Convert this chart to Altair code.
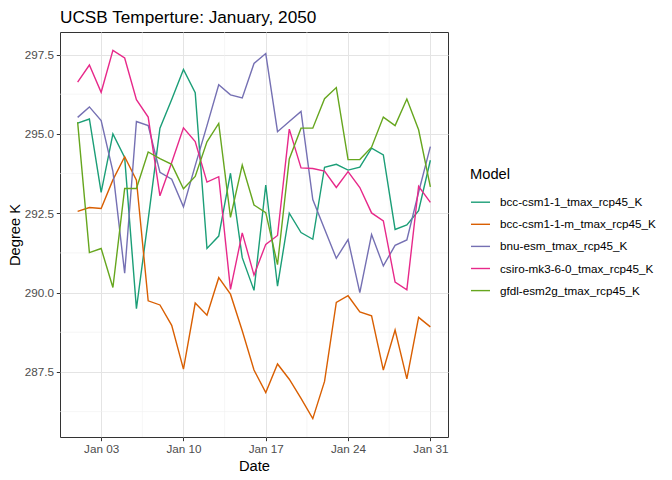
import altair as alt
import pandas as pd

models = [
    "bcc-csm1-1_tmax_rcp45_K",
    "bcc-csm1-1-m_tmax_rcp45_K",
    "bnu-esm_tmax_rcp45_K",
    "csiro-mk3-6-0_tmax_rcp45_K",
    "gfdl-esm2g_tmax_rcp45_K",
]
colors = ["#1B9E77", "#D95F02", "#7570B3", "#E7298A", "#66A61E"]

days = list(range(1, 32))

bcc_csm1_1 = [295.34, 295.47, 293.16, 295.0, 294.26, 289.49, 292.3, 295.18, 296.08, 297.03,
              296.3, 291.39, 291.78, 293.76, 291.1, 290.07, 293.39, 290.2, 292.5, 291.89,
              291.68, 293.95, 294.04, 293.86, 293.95, 294.55, 294.34, 291.99, 292.13, 292.58, 294.17]
bcc_csm1_1_m = [292.56, 292.68, 292.65, 293.55, 294.28, 293.54, 289.74, 289.61, 288.97, 287.59,
                289.67, 289.29, 290.47, 289.95, 288.8, 287.56, 286.85, 287.75, 287.27, 286.67,
                286.03, 287.2, 289.69, 289.9, 289.39, 289.27, 287.56, 288.82, 287.28, 289.22, 288.92]
bnu_esm = [295.52, 295.85, 295.42, 293.82, 290.61, 295.39, 295.26, 293.79, 293.57, 292.7,
           294.0, 295.26, 296.55, 296.23, 296.13, 297.22, 297.53, 295.07, 295.39, 295.71,
           292.93, 292.0, 291.08, 291.67, 290.0, 291.83, 290.84, 291.49, 291.66, 293.16, 294.6]
csiro = [296.63, 297.17, 296.31, 297.63, 297.39, 296.08, 295.53, 293.05, 294.1, 295.19,
         294.76, 293.48, 293.65, 290.1, 291.88, 290.55, 291.52, 291.8, 295.15, 293.93,
         293.91, 293.83, 293.31, 293.81, 293.31, 292.51, 292.26, 290.33, 290.09, 293.35, 292.84]
gfdl = [295.37, 291.26, 291.39, 290.16, 293.28, 293.28, 294.43, 294.22, 294.04, 293.27,
        293.66, 294.75, 295.33, 292.37, 294.02, 292.76, 292.52, 290.88, 294.21, 295.18,
        295.18, 296.11, 296.46, 294.19, 294.19, 294.58, 295.53, 295.26, 296.1, 295.13, 293.33]

series = [bcc_csm1_1, bcc_csm1_1_m, bnu_esm, csiro, gfdl]

y_major = [287.5, 290.0, 292.5, 295.0, 297.5]
y_minor = [286.25, 288.75, 291.25, 293.75, 296.25]
x_major_days = [3, 10, 17, 24, 31]
x_minor = ["2050-01-06T12:00:00", "2050-01-13T12:00:00", "2050-01-20T12:00:00", "2050-01-27T12:00:00"]

rows = []
for m, vals in zip(models, series):
    for d, v in zip(days, vals):
        rows.append({"date": f"2050-01-{d:02d}T00:00:00", "value": v, "Model": m})
df = pd.DataFrame(rows)

allv = [v for s in series for v in s]
lo, hi = min(allv), max(allv)
pad = (hi - lo) * 0.05
ydom = [lo - pad, hi + pad]

xscale = alt.Scale(
    domain=[alt.DateTime(year=2049, month=12, date=30, hours=12),
            alt.DateTime(year=2050, month=2, date=1, hours=12)],
    nice=False,
)
yscale = alt.Scale(domain=ydom, nice=False, zero=False)

FONT = "Liberation Sans"

lines = alt.Chart(df).mark_line(strokeWidth=1.4).encode(
    x=alt.X("date:T", scale=xscale, title="Date",
            axis=alt.Axis(values=[alt.DateTime(year=2050, month=1, date=d) for d in x_major_days],
                          format="%b %d")),
    y=alt.Y("value:Q", scale=yscale, title="Degree K",
            axis=alt.Axis(values=y_major, format=".1f")),
    color=alt.Color("Model:N", scale=alt.Scale(domain=models, range=colors),
                    legend=alt.Legend(title="Model", orient="none", legendX=410, legendY=135,
                                      symbolType="stroke", symbolSize=361, symbolStrokeWidth=1.4,
                                      labelFontSize=11.7, titleFontSize=14.7, titleFontWeight="normal",
                                      labelColor="#000000", titleColor="#000000",
                                      rowPadding=4.1, titlePadding=10, labelOffset=9,
                                      labelFont=FONT, titleFont=FONT)),
)

minor_y = alt.Chart(pd.DataFrame({"value": y_minor})).mark_rule(color="#F0F0F0", strokeWidth=0.6).encode(
    y=alt.Y("value:Q", scale=yscale, title="Degree K")
)
minor_x = alt.Chart(pd.DataFrame({"date": x_minor})).mark_rule(color="#F0F0F0", strokeWidth=0.6).encode(
    x=alt.X("date:T", scale=xscale, title="Date")
)

chart = alt.layer(minor_y, minor_x, lines).properties(
    width=388, height=405,
    autosize=alt.AutoSizeParams(type="none"),
    padding={"left": 52, "top": 24, "right": 216, "bottom": 40},
    title=alt.Title("UCSB Temperture: January, 2050", anchor="start", frame="group",
                    fontSize=17.2, fontWeight="normal", font=FONT, color="#000000", offset=6),
).configure_view(
    stroke="#333333", strokeWidth=1
).configure_axis(
    grid=True, gridColor="#E4E4E4", gridWidth=1,
    domain=False, tickColor="#333333", tickSize=3.7, tickWidth=1,
    labelColor="#4D4D4D", labelFontSize=11.7, labelFont=FONT, labelPadding=2.9,
    titleFont=FONT, titleFontSize=14.7, titleFontWeight="normal", titleColor="#000000",
).configure_axisY(
    titlePadding=2
).configure_axisX(
    titlePadding=3
)

chart.save("out.html", embed_options={"renderer": "svg", "actions": False})
